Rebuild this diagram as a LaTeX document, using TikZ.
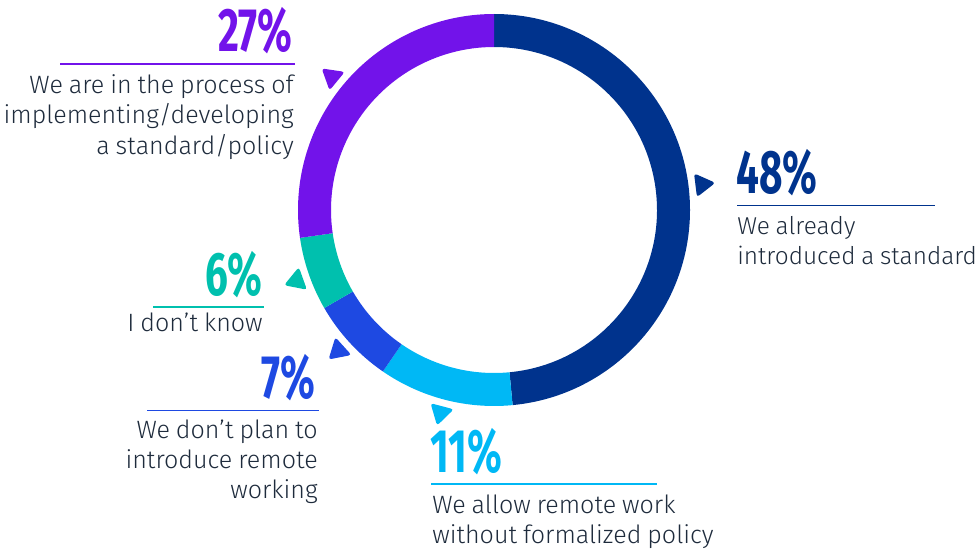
\documentclass[tikz,border=0pt]{standalone}
\usepackage{fontspec}
\setmainfont{Fira Sans}
\newfontfamily\bodyfont{Fira Sans}[UprightFont=* Light, WordSpace=0.85]
\newfontfamily\numfont{Fira Sans}[UprightFont=* Bold]
\definecolor{kdblue}{HTML}{00338D}
\definecolor{klblue}{HTML}{00B8F5}
\definecolor{kmblue}{HTML}{1E49E2}
\definecolor{kteal}{HTML}{00C0AE}
\definecolor{kpurple}{HTML}{7213EA}
\definecolor{ktext}{HTML}{1E2B3C}
\newcommand{\donutseg}[3]{%
  \fill[#1] (#2:196) arc[start angle=#2, end angle=#3, radius=196]
    -- (#3:163) arc[start angle=#3, end angle=#2, radius=163] -- cycle;}
\newcommand{\pointer}[2]{%
  \begin{scope}[rotate=#2]
    \fill[#1, rounded corners=2.2] (203,-12) -- (223,0) -- (203,12) -- cycle;
  \end{scope}}
\tikzset{
  pct/.style={inner sep=0pt, font=\numfont\fontsize{46}{46}\selectfont},
  lbl/.style={inner sep=0pt, text=ktext, font=\bodyfont\fontsize{18.8}{22.5}\selectfont},
  rulel/.style={line width=1.1pt},
}
\begin{document}
\begin{tikzpicture}[x=0.75pt, y=0.75pt]
\begin{scope}[yscale=-1]
\useasboundingbox (0,0) rectangle (980,549);
% donut
\begin{scope}[shift={(494,210)}]
  \donutseg{kdblue}{-90}{84.545}
  \donutseg{klblue}{84.545}{124.545}
  \donutseg{kmblue}{124.545}{150}
  \donutseg{kteal}{150}{171.818}
  \donutseg{kpurple}{171.818}{270}
  \pointer{kdblue}{-7}
  \pointer{kpurple}{-140.6}
  \pointer{kteal}{160.3}
  \pointer{kmblue}{137.9}
  \pointer{klblue}{104.8}
\end{scope}
% 27%
\node[pct, text=kpurple, anchor=base east] (p27) at (293,52) {\scalebox{0.66}[1]{27\%}};
\coordinate (r27a) at (60,64); \coordinate (r27b) at (295,64);
\draw[rulel, kpurple] (r27a) -- (r27b);
\node[lbl, anchor=base east, align=right] (t27) at (294,154)
  {We are in the process of\\implementing/developing\\a standard/policy};
% 48%
\node[pct, text=kdblue, anchor=base west] (p48) at (736,193) {\scalebox{0.66}[1]{48\%}};
\coordinate (r48a) at (737,205.5); \coordinate (r48b) at (935,205.5);
\draw[rulel, kdblue] (r48a) -- (r48b);
\node[lbl, anchor=base west, align=left, font=\bodyfont\fontsize{18.3}{22.5}\selectfont] (t48) at (737,264)
  {We already\\introduced a standard};
% 6%
\node[pct, text=kteal, anchor=base east] (p6) at (263,295) {\scalebox{0.66}[1]{6\%}};
\coordinate (r6a) at (153,307); \coordinate (r6b) at (264,307);
\draw[rulel, kteal] (r6a) -- (r6b);
\node[lbl, anchor=base east, align=right] (t6) at (263,331) {I don’t know};
% 7%
\node[pct, text=kmblue, anchor=base east] (p7) at (316,398) {\scalebox{0.66}[1]{7\%}};
\coordinate (r7a) at (147,410.5); \coordinate (r7b) at (319,410.5);
\draw[rulel, kmblue] (r7a) -- (r7b);
\node[lbl, anchor=base east, align=right] (t7) at (318,498)
  {We don’t plan to\\introduce remote\\working};
% 11%
\node[pct, text=klblue, anchor=base west] (p11) at (430,472) {\scalebox{0.66}[1]{11\%}};
\coordinate (r11a) at (431,484); \coordinate (r11b) at (657,484);
\draw[rulel, klblue] (r11a) -- (r11b);
\node[lbl, anchor=base west, align=left] (t11) at (432,543)
  {We allow remote work\\without formalized policy};
\end{scope}
\end{tikzpicture}
\end{document}
